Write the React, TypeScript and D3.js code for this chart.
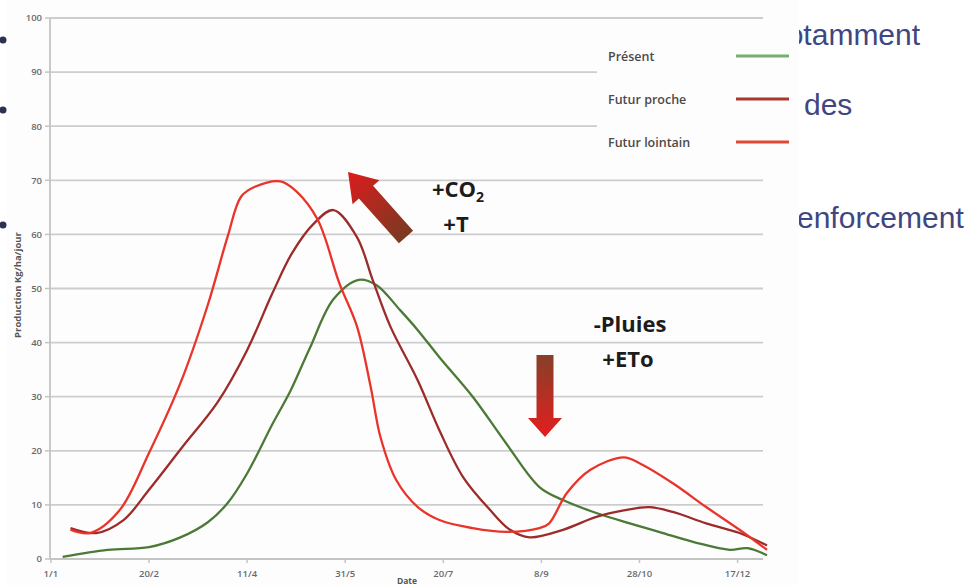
import React, { useEffect, useRef } from 'react';
import * as d3 from 'd3';

// [jour de l'année, production kg/ha/jour]
const PRESENT: [number, number][] = [
  [6, 0.4], [29, 1.7], [50, 2.2], [66, 4], [80, 6.8], [90, 10.3], [100, 15.8],
  [113, 25], [122, 31], [132, 39], [144, 48], [157, 51.6], [166, 50.6],
  [178, 46], [187, 42.3], [198, 37.3], [215, 30], [232, 21.4], [249, 13.3],
  [261, 10.9], [278, 8.5], [295, 6.6], [312, 4.8], [329, 3], [346, 1.7],
  [355, 2], [365, 0.7],
];
const FUTUR_PROCHE: [number, number][] = [
  [10, 5.7], [23, 4.8], [37, 7.2], [50, 12.8], [67, 20.7], [85, 29],
  [100, 38.6], [113, 49.2], [123, 56.6], [134, 62], [144, 64.5], [156, 59.5],
  [164, 51.6], [173, 43], [187, 33], [198, 23.8], [210, 15.2], [224, 9],
  [234, 5.4], [244, 4], [261, 5.4], [278, 7.8], [292, 9], [305, 9.6],
  [317, 8.7], [334, 6.6], [351, 4.8], [365, 2.5],
];
const FUTUR_LOINTAIN: [number, number][] = [
  [10, 5.4], [20, 4.8], [35, 9], [50, 19.6], [66, 32.5], [80, 47],
  [90, 59.5], [97, 67], [104, 68.8], [117, 69.8], [125, 68], [136, 62.7],
  [147, 51], [156, 43], [163, 31.8], [168, 22.5], [176, 14.6], [187, 9.6],
  [198, 7.2], [215, 5.7], [232, 5], [249, 5.7], [254, 6.6], [263, 12.2],
  [275, 16.5], [292, 18.8], [300, 17.7], [317, 14], [334, 9.6], [351, 5.4],
  [365, 1.7],
];

const X_TICKS = [0, 50, 100, 150, 200, 250, 300, 350];
const X_TICK_LABELS = ['1/1', '20/2', '11/4', '31/5', '20/7', '8/9', '28/10', '17/12'];
const Y_TICKS = [0, 10, 20, 30, 40, 50, 60, 70, 80, 90, 100];

const SERIES = [
  { name: 'Présent', data: PRESENT, color: '#4b7a36', legend: '#74b070' },
  { name: 'Futur proche', data: FUTUR_PROCHE, color: '#9c2c2a', legend: '#a8382c' },
  { name: 'Futur lointain', data: FUTUR_LOINTAIN, color: '#e8342a', legend: '#dc4a36' },
];

const SLIDE_TEXT = [
  { text: 'notamment', x: 770, y: 45 },
  { text: 'des', x: 804, y: 115 },
  { text: 'renforcement', x: 787, y: 228 },
];

const App: React.FC = () => {
  const ref = useRef<SVGSVGElement>(null);

  useEffect(() => {
    if (!ref.current) return;
    const svg = d3.select(ref.current);
    svg.selectAll('*').remove();

    const x = d3.scaleLinear().domain([0, 365]).range([50.9, 767]);
    const y = d3.scaleLinear().domain([0, 100]).range([559, 18]);
    const font = '"Open Sans", "Liberation Sans", sans-serif';

    // slide behind the chart picture
    svg.append('rect').attr('width', 968).attr('height', 585).attr('fill', '#ffffff');
    svg.selectAll('.slide')
      .data(SLIDE_TEXT)
      .enter().append('text')
      .attr('x', d => d.x)
      .attr('y', d => d.y)
      .text(d => d.text)
      .style('font-family', '"Liberation Sans", Arial, sans-serif')
      .style('font-size', '30px')
      .style('fill', '#40467f');
    [40, 110, 225].forEach(cy => {
      svg.append('circle').attr('cx', 3).attr('cy', cy).attr('r', 3.5).attr('fill', '#2e2f55');
    });

    // chart picture
    svg.append('rect').attr('x', 7).attr('y', 0).attr('width', 792).attr('height', 585).attr('fill', '#fefdfd');

    const defs = svg.append('defs');
    const g1 = defs.append('linearGradient').attr('id', 'arrowDiag').attr('x1', 0).attr('x2', 1).attr('y1', 0).attr('y2', 0);
    g1.append('stop').attr('offset', '0%').attr('stop-color', '#7a3a22');
    g1.append('stop').attr('offset', '100%').attr('stop-color', '#dc1c1c');
    const g2 = defs.append('linearGradient').attr('id', 'arrowDown').attr('x1', 0).attr('x2', 1).attr('y1', 0).attr('y2', 0);
    g2.append('stop').attr('offset', '0%').attr('stop-color', '#86402a');
    g2.append('stop').attr('offset', '100%').attr('stop-color', '#e41e1e');

    // gridlines
    svg.selectAll('.grid')
      .data(Y_TICKS.filter(t => t > 0))
      .enter().append('line')
      .attr('x1', 50).attr('x2', 763)
      .attr('y1', d => y(d)).attr('y2', d => y(d))
      .attr('stroke', '#cdcdcd')
      .attr('stroke-width', 1.8);

    // axes
    svg.append('line').attr('x1', 50).attr('x2', 50).attr('y1', y(100)).attr('y2', y(0))
      .attr('stroke', '#c4c4c4').attr('stroke-width', 1.8);
    svg.append('line').attr('x1', 50).attr('x2', 763).attr('y1', y(0)).attr('y2', y(0))
      .attr('stroke', '#c4c4c4').attr('stroke-width', 1.8);

    svg.selectAll('.ytick')
      .data(Y_TICKS)
      .enter().append('line')
      .attr('x1', 45).attr('x2', 50)
      .attr('y1', d => y(d)).attr('y2', d => y(d))
      .attr('stroke', '#c4c4c4').attr('stroke-width', 1.5);

    svg.selectAll('.ylabel')
      .data(Y_TICKS)
      .enter().append('text')
      .attr('x', 42)
      .attr('y', d => y(d))
      .attr('dy', '0.35em')
      .attr('text-anchor', 'end')
      .text(d => d)
      .style('font-family', font)
      .style('font-size', '9.5px')
      .style('font-weight', '600')
      .style('fill', '#6a6a6a');

    svg.selectAll('.xtick')
      .data(X_TICKS)
      .enter().append('line')
      .attr('x1', d => x(d)).attr('x2', d => x(d))
      .attr('y1', y(0)).attr('y2', y(0) + 4)
      .attr('stroke', '#c4c4c4').attr('stroke-width', 1.5);

    svg.selectAll('.xlabel')
      .data(X_TICKS)
      .enter().append('text')
      .attr('x', d => x(d))
      .attr('y', 577)
      .attr('text-anchor', 'middle')
      .text((d, i) => X_TICK_LABELS[i])
      .style('font-family', font)
      .style('font-size', '9.5px')
      .style('font-weight', '600')
      .style('fill', '#6a6a6a');

    svg.append('text')
      .attr('x', 407).attr('y', 584)
      .attr('text-anchor', 'middle')
      .text('Date')
      .style('font-family', font)
      .style('font-size', '8.5px')
      .style('font-weight', '700')
      .style('fill', '#555');

    svg.append('text')
      .attr('transform', 'translate(21,285) rotate(-90)')
      .attr('text-anchor', 'middle')
      .text('Production Kg/ha/jour')
      .style('font-family', font)
      .style('font-size', '9.5px')
      .style('font-weight', '700')
      .style('fill', '#555');

    // legend box hides the gridlines behind it
    svg.append('rect').attr('x', 597).attr('y', 30).attr('width', 202).attr('height', 136).attr('fill', '#fefdfd');

    const legend = svg.selectAll('.legend')
      .data(SERIES)
      .enter().append('g')
      .attr('transform', (d, i) => `translate(0,${56 + i * 43})`);
    legend.append('text')
      .attr('x', 608).attr('y', 4.5)
      .text(d => d.name)
      .style('font-family', font)
      .style('font-size', '12.5px')
      .style('font-weight', '600')
      .style('fill', '#4a4a4a');
    legend.append('line')
      .attr('x1', 736).attr('x2', 789)
      .attr('y1', 0).attr('y2', 0)
      .attr('stroke', d => d.legend)
      .attr('stroke-width', 3);

    // curves
    const line = d3.line<[number, number]>()
      .x(d => x(d[0]))
      .y(d => y(d[1]))
      .curve(d3.curveCatmullRom.alpha(0.5));

    svg.selectAll('.series')
      .data(SERIES)
      .enter().append('path')
      .attr('d', d => line(d.data) as string)
      .attr('fill', 'none')
      .attr('stroke', d => d.color)
      .attr('stroke-width', 2.3)
      .attr('stroke-linejoin', 'round');

    // arrows
    const arrowShape = (len: number, hw: number, HW: number, hl: number) =>
      `M0,${-hw}L${len - hl},${-hw}L${len - hl},${-HW}L${len},0L${len - hl},${HW}L${len - hl},${hw}L0,${hw}Z`;

    const tail = [406, 237];
    const tip = [348, 172];
    const dx = tip[0] - tail[0];
    const dy = tip[1] - tail[1];
    const len = Math.sqrt(dx * dx + dy * dy);
    const ang = (Math.atan2(dy, dx) * 180) / Math.PI;
    svg.append('path')
      .attr('transform', `translate(${tail[0]},${tail[1]}) rotate(${ang})`)
      .attr('d', arrowShape(len, 9.5, 18, 27))
      .attr('fill', 'url(#arrowDiag)');

    svg.append('path')
      .attr('transform', 'translate(545,355) rotate(90)')
      .attr('d', arrowShape(82, 8.5, 17, 19))
      .attr('fill', 'url(#arrowDown)');

    // annotations
    const ann = svg.append('g')
      .style('font-family', font)
      .style('font-weight', '700')
      .style('fill', '#1c1c1c');
    const co2 = ann.append('text').attr('x', 458).attr('y', 197).attr('text-anchor', 'middle').style('font-size', '22px');
    co2.append('tspan').text('+CO');
    co2.append('tspan').attr('dy', 5).style('font-size', '14px').text('2');
    ann.append('text').attr('x', 456).attr('y', 232).attr('text-anchor', 'middle').style('font-size', '22px').text('+T');
    ann.append('text').attr('x', 630).attr('y', 332).attr('text-anchor', 'middle').style('font-size', '22px').text('-Pluies');
    ann.append('text').attr('x', 628).attr('y', 367).attr('text-anchor', 'middle').style('font-size', '22px').text('+ETo');
  }, []);

  return (
    <svg
      ref={ref}
      width={968}
      height={585}
      style={{ position: 'absolute', left: 0, top: 0, display: 'block' }}
    />
  );
};

export default App;
